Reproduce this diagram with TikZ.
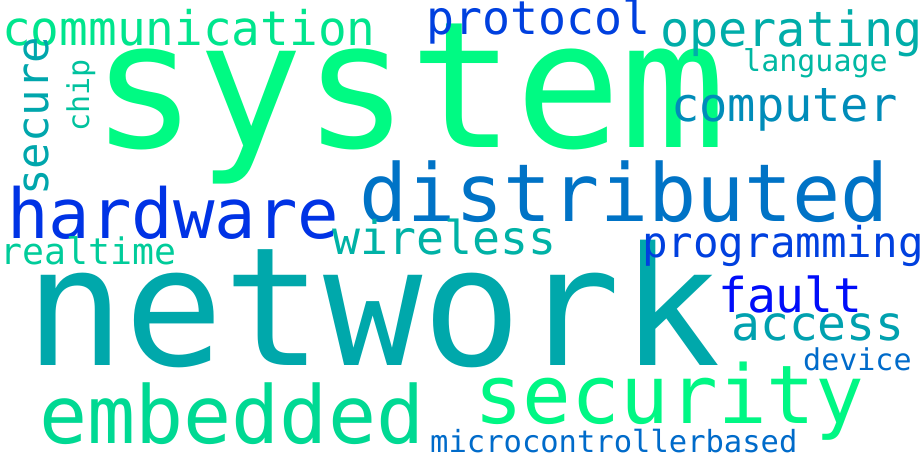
\documentclass[tikz,border=0pt]{standalone}
\usepackage{fontspec}
\usepackage{tikz}
\newfontfamily\cloudfont{DejaVu Sans Mono}
\definecolor{winterlo}{RGB}{0,0,255}
\definecolor{winterhi}{RGB}{0,255,128}

\begin{document}
\begin{tikzpicture}[
    x=1pt, y=1pt,
    word/.style={inner sep=0pt, anchor=base west, font=\cloudfont}
]

    % Canvas
    \useasboundingbox[fill=white] (0,0) rectangle (924,462);

    % Words: name/text/size/x/baseline/shade/rotation
    \foreach \name/\txt/\sz/\px/\py/\shade/\rot in {
        wSystem/system/176/91/314/98/0,
        wNetwork/network/165/25/96/66/0,
        wDistributed/distributed/80/359/240/45/0,
        wHardware/hardware/69/7/223/20/0,
        wEmbedded/embedded/80/39/18/85/0,
        wSecurity/security/81/474/38/97/0,
        wCommunication/communication/47.7/2/416/90/0,
        wOperating/operating/48.5/660/415/68/0,
        wComputer/computer/47/671/340/55/0,
        wProtocol/protocol/46.5/426/427/25/0,
        wProgramming/programming/42.5/642/204/25/0,
        wWireless/wireless/46.5/332/207/70/0,
        wFault/fault/48/718/149/5/0,
        wAccess/access/48/731/121/63/0,
        wRealtime/realtime/36.5/0/197/80/0,
        wLanguage/language/30/743/390/72/0,
        wDevice/device/30/803/91/42/0,
        wMicro/microcontrollerbased/30.5/430/9/42/0,
        wSecure/secure/44/48/266/65/90,
        wChip/chip/30/89/330/76/90} {
        \node[word, text=winterhi!\shade!winterlo, rotate=\rot,
              font=\cloudfont\fontsize{\sz pt}{\sz pt}\selectfont]
              (\name) at (\px,\py) {\txt};
    }

\end{tikzpicture}
\end{document}
